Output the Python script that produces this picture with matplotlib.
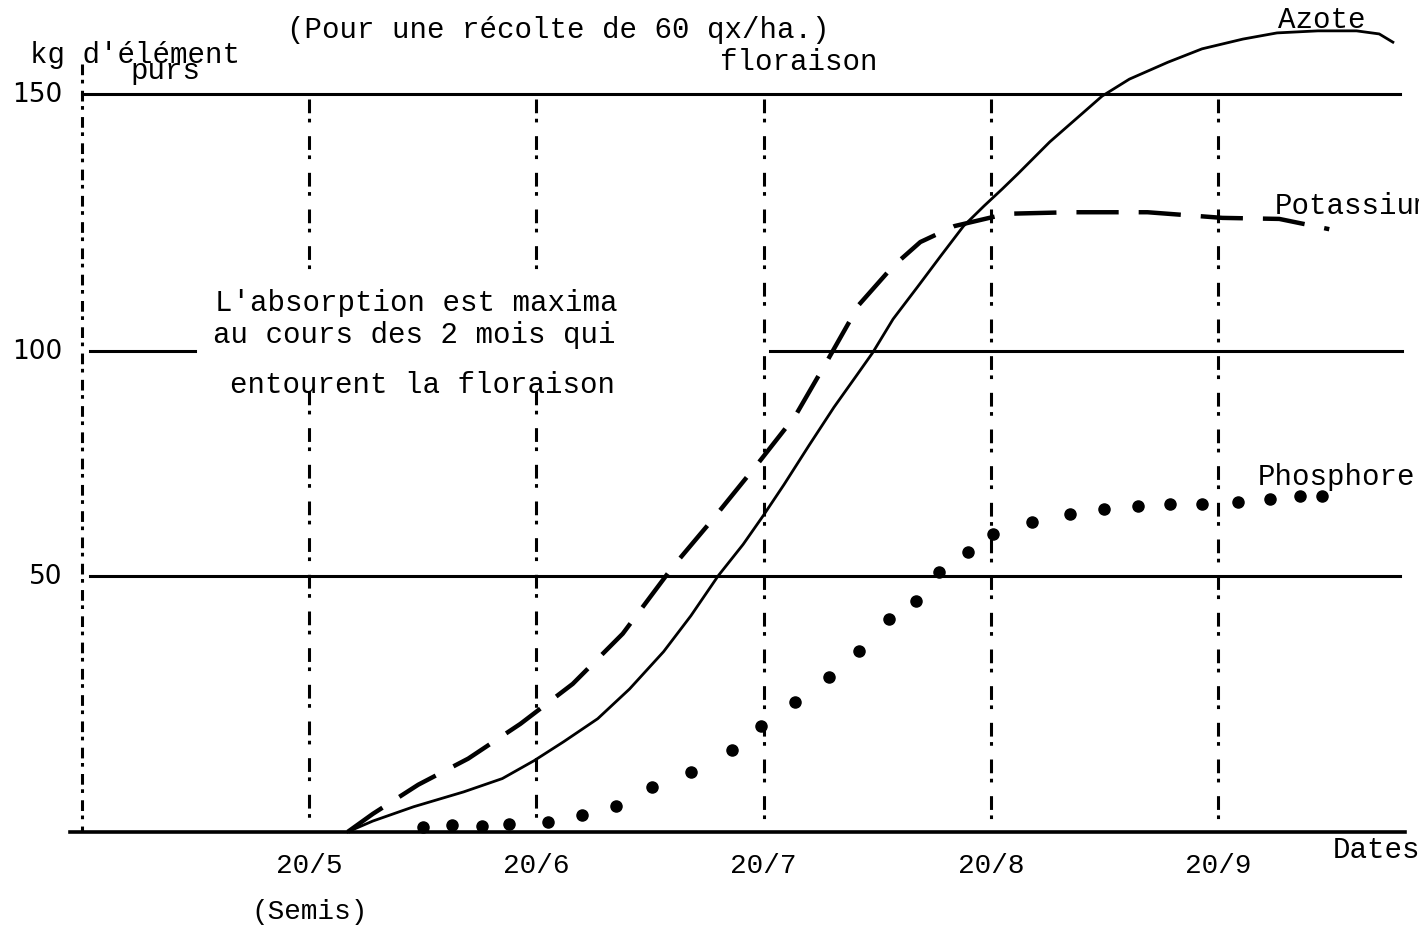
import numpy as np
import matplotlib.pyplot as plt

# Dates en mois : 5 = 20/5, 6 = 20/6, ...
azote_x = [5.17, 5.28, 5.46, 5.68, 5.85, 5.99, 6.12, 6.27, 6.41, 6.56, 6.68, 6.80, 6.91, 7.00,
           7.09, 7.20, 7.31, 7.41, 7.48, 7.57, 7.68, 7.78, 7.88, 7.97, 8.05, 8.12, 8.26, 8.41,
           8.49, 8.61, 8.78, 8.93, 9.11, 9.26, 9.44, 9.61, 9.71, 9.77]
azote_y = [0, 2.1, 4.9, 7.8, 10.4, 13.9, 17.6, 22.1, 27.9, 35.2, 42.2, 50.0, 57.0, 63.5,
           70.3, 79.0, 87.5, 94.6, 99.6, 106.2, 112.6, 118.5, 124.3, 128.2, 131.5, 134.5, 140.7, 146.5,
           149.6, 152.9, 156.2, 158.8, 160.7, 161.9, 162.3, 162.3, 161.7, 160.1]

potassium_x = [5.17, 5.28, 5.48, 5.70, 5.93, 6.16, 6.38, 6.60, 6.77, 6.98, 7.14, 7.28, 7.42,
               7.57, 7.69, 7.84, 8.07, 8.35, 8.69, 9.02, 9.27, 9.49]
potassium_y = [0, 3.5, 9.2, 14.3, 21.1, 28.9, 38.7, 52.0, 62.2, 75.3, 85.6, 97.8, 109.0,
               116.5, 121.2, 124.3, 126.7, 127.0, 127.0, 125.9, 125.7, 123.7]

phosphore_x = [5.50, 5.63, 5.76, 5.88, 6.05, 6.20, 6.35, 6.51, 6.68, 6.86, 6.99, 7.14, 7.29,
               7.42, 7.55, 7.67, 7.77, 7.90, 8.01, 8.18, 8.35, 8.50, 8.65, 8.79, 8.93, 9.09,
               9.23, 9.36, 9.46]
phosphore_y = [1.0, 1.4, 1.2, 1.6, 2.0, 3.3, 5.1, 8.8, 11.7, 16.0, 20.7, 25.4, 30.3,
               35.4, 41.6, 45.1, 50.9, 55.3, 59.3, 62.0, 63.8, 64.9, 65.6, 66.0, 66.0, 66.4,
               67.1, 67.8, 67.8]

date_pos = [5, 6, 7, 8, 9]
date_labels = ['20/5', '20/6', '20/7', '20/8', '20/9']
y_labels = [150, 100, 50]

# graduations tracées à la main : écarts irréguliers
kg_knots = [-100, 0, 50, 100, 150, 300]
pos_knots = [-512, 0, 256, 481, 738, 1509]


def fwd(v):
    return np.interp(v, kg_knots, pos_knots)


def inv(p):
    return np.interp(p, pos_knots, kg_knots)


mono = 'Liberation Mono'
fs = 21

fig = plt.figure(figsize=(14.19, 9.28), dpi=100)
ax = fig.add_axes([0, 0, 1, 1])
ax.set_yscale('function', functions=(fwd, inv))
ax.set_xlim(3.639, 9.885)
ax.set_ylim(-18.6, 168.5)
ax.axis('off')

# lignes horizontales
lw_h = 2.2
ax.plot([4.0, 9.80], [150, 150], color='black', lw=lw_h)
ax.plot([4.035, 4.497], [100, 100], color='black', lw=lw_h)
ax.plot([7.028, 9.81], [100, 100], color='black', lw=lw_h)
ax.plot([4.035, 9.80], [50, 50], color='black', lw=lw_h)
ax.plot([3.947, 9.823], [0, 0], color='black', lw=2.6)

# lignes verticales en "!"
bang = (0, (4.5, 1.8, 1.2, 4.5))
ax.plot([4, 4], [155.8, 0], color='black', lw=2.2, linestyle=(0, (3.5, 1.5, 1.2, 2.4)))
for d in [5, 6]:
    ax.plot([d, d], [149, 114], color='black', lw=2.2, linestyle=bang)
    ax.plot([d, d], [91, 0], color='black', lw=2.2, linestyle=bang)
for d in [7, 8, 9]:
    ax.plot([d, d], [149, 0], color='black', lw=2.2, linestyle=bang)

# courbes
ax.plot(azote_x, azote_y, color='black', lw=2.0)
ax.plot(potassium_x, potassium_y, color='black', lw=3.2, linestyle=(0, (9.5, 4.5)))
ax.plot(phosphore_x, phosphore_y, 'o', color='black', ms=8)

# textes (position en fraction de la figure)
notes = [
    (0.2023, 0.9677, '(Pour une récolte de 60 qx/ha.)'),
    (0.0211, 0.9407, "kg d'élément"),
    (0.0916, 0.9235, 'purs'),
    (0.5074, 0.9332, 'floraison'),
    (0.9006, 0.9784, 'Azote'),
    (0.8985, 0.7780, 'Potassium'),
    (0.8865, 0.4860, 'Phosphore'),
    (0.1515, 0.6735, "L'absorption est maxima"),
    (0.1501, 0.6390, 'au cours des 2 mois qui'),
    (0.1621, 0.5851, 'entourent la floraison'),
    (0.9394, 0.0841, 'Dates'),
]
for x, y, t in notes:
    ax.text(x, y, t, family=mono, fontsize=fs, va='center', transform=ax.transAxes)

for v in y_labels:
    ax.text(0.0437, v, str(v), fontsize=19, ha='right', va='center',
            transform=ax.get_yaxis_transform())

for d, lab in zip(date_pos, date_labels):
    ax.text(d, 0.0668, lab, family=mono, fontsize=20, ha='center', va='center',
            transform=ax.get_xaxis_transform())
ax.text(5, 0.0172, '(Semis)', family=mono, fontsize=20, ha='center', va='center',
        transform=ax.get_xaxis_transform())

plt.savefig('out.png', dpi=100)
